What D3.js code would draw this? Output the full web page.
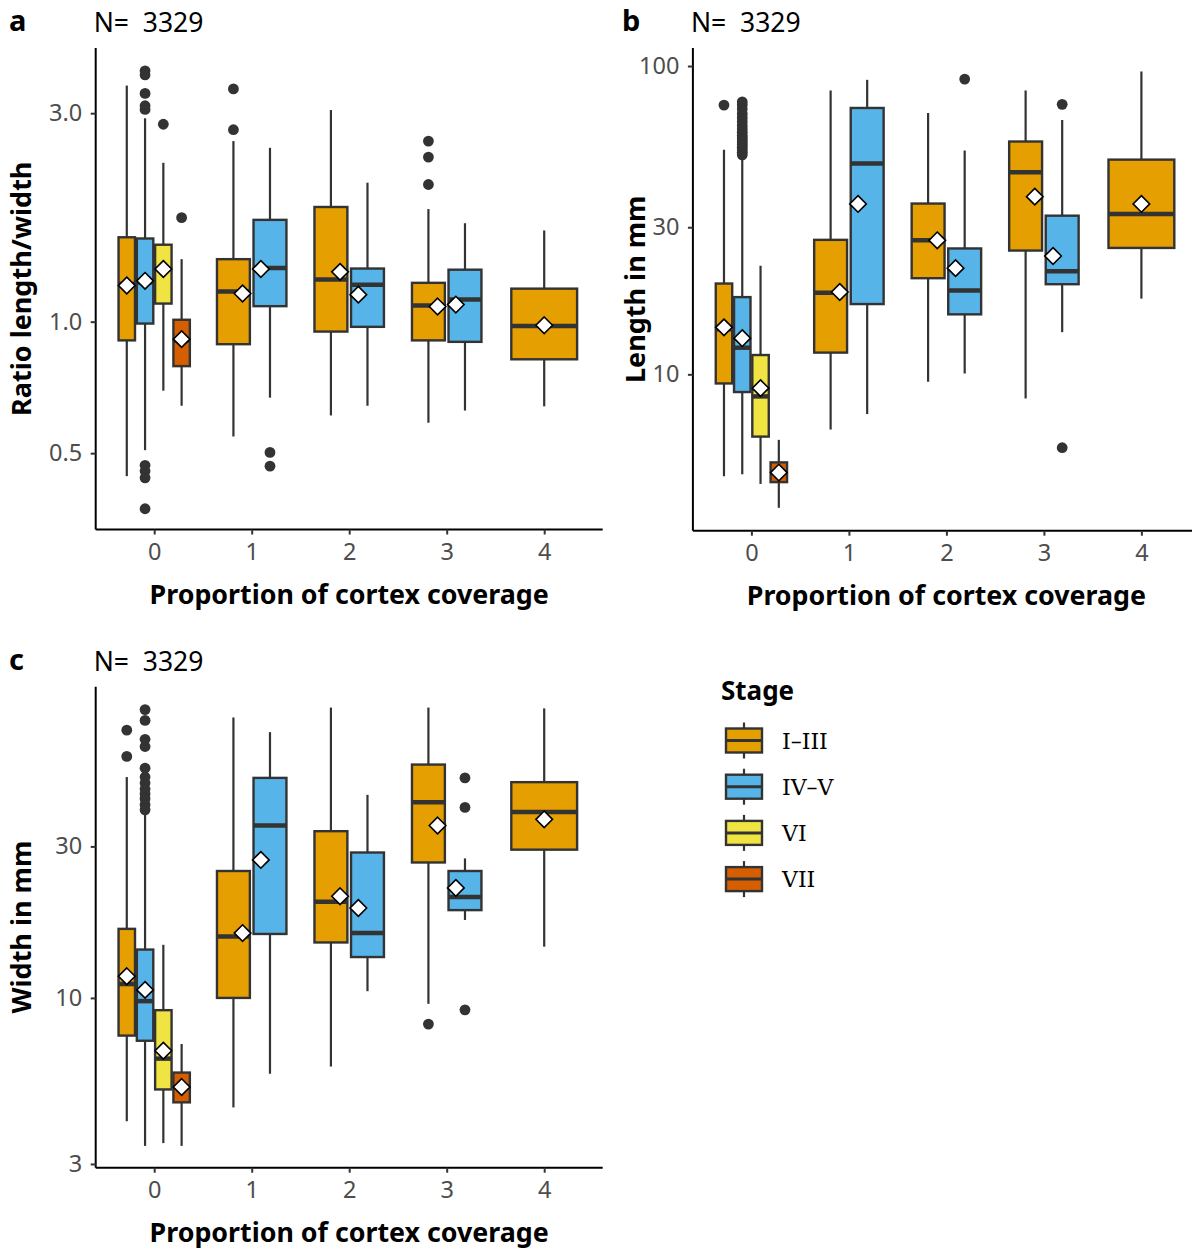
<!DOCTYPE html>
<html><head><meta charset="utf-8">
<script src="https://cdn.jsdelivr.net/npm/d3@7"></script>
<style>body{margin:0;background:#fff} svg{display:block} text{white-space:pre}</style>
</head><body>
<script>
const categories = ["0","1","2","3","4"];
const stages = ["I–III","IV–V","VI","VII"];
const stageColors = ["#E69F00","#56B4E9","#F0E442","#D55E00"];
const xAxisTitle = "Proportion of cortex coverage";
const nLabel = "N=  3329";
const legendTitle = "Stage";

// [category, stage, lower whisker, Q1, median, Q3, upper whisker, mean]
const ratioBoxes = [
  ["0","I–III",0.443,0.906,1.22,1.56,3.47,1.21],
  ["0","IV–V",0.508,0.99,1.23,1.55,2.92,1.24],
  ["0","VI",0.695,1.10,1.32,1.50,2.31,1.32],
  ["0","VII",0.642,0.791,0.906,1.01,1.39,0.912],
  ["1","I–III",0.546,0.888,1.172,1.39,2.59,1.16],
  ["1","IV–V",0.670,1.085,1.326,1.71,2.50,1.32],
  ["2","I–III",0.610,0.949,1.248,1.83,3.05,1.30],
  ["2","IV–V",0.642,0.973,1.214,1.323,2.08,1.153],
  ["3","I–III",0.587,0.906,1.089,1.227,1.81,1.083],
  ["3","IV–V",0.626,0.899,1.124,1.315,1.68,1.094],
  ["4","I–III",0.640,0.820,0.977,1.19,1.617,0.981]
];
const ratioOutliers = [
  ["0","IV–V",[3.75,3.67,3.33,3.12,3.06,0.469,0.455,0.439,0.373]],
  ["0","VI",[2.83]],
  ["0","VII",[1.73]],
  ["1","I–III",[3.41,2.75]],
  ["1","IV–V",[0.502,0.467]],
  ["3","I–III",[2.59,2.38,2.06]]
];
const ratioTicks = [0.5, 1.0, 3.0];

const lengthBoxes = [
  ["0","I–III",4.67,9.34,14.0,19.7,53.5,14.2],
  ["0","IV–V",4.74,8.76,12.2,17.8,50.9,13.1],
  ["0","VI",4.41,6.28,8.48,11.55,22.5,9.02],
  ["0","VII",3.69,4.47,4.80,5.18,6.13,4.80],
  ["1","I–III",6.62,11.76,18.4,27.3,83.3,18.5],
  ["1","IV–V",7.43,16.9,48.3,73.1,90.2,35.7],
  ["2","I–III",9.46,20.5,27.2,35.8,70.4,27.2],
  ["2","IV–V",10.06,15.65,18.7,25.6,53.2,22.1],
  ["3","I–III",8.35,25.2,45.2,56.9,83.3,37.7],
  ["3","IV–V",13.7,19.6,21.6,32.7,66.8,24.2],
  ["4","I–III",17.6,25.7,33.1,49.7,96.0,35.7]
];
const lengthOutliers = [
  ["0","I–III",[74.7]],
  ["0","IV–V",[51.5,52.5,53.5,54.5,55.5,56.5,57.5,58.5,59.5,61,62.5,64,66,68,70,72.5,74.7,76.5]],
  ["2","IV–V",[90.7]],
  ["3","IV–V",[75.1,5.78]]
];
const lengthTicks = [10, 30, 100];

const widthBoxes = [
  ["0","I–III",4.09,7.61,11.06,16.5,49.6,11.7],
  ["0","IV–V",3.42,7.33,9.77,14.2,37.8,10.6],
  ["0","VI",3.49,5.15,6.44,9.15,14.7,6.82],
  ["0","VII",3.42,4.69,5.24,5.82,7.16,5.24],
  ["1","I–III",4.52,10.0,15.6,25.1,76.4,16.0],
  ["1","IV–V",5.77,15.9,34.9,49.3,68.7,27.2],
  ["2","I–III",6.08,14.95,20.1,33.5,82.1,20.9],
  ["2","IV–V",10.5,13.45,16.0,28.7,43.6,19.2],
  ["3","I–III",9.58,26.7,41.3,54.3,82.1,34.9],
  ["3","IV–V",17.6,18.9,20.8,25.1,27.5,22.2],
  ["4","I–III",14.5,29.3,38.5,47.8,81.6,36.5]
];
const widthOutliers = [
  ["0","I–III",[69.7,57.6]],
  ["0","IV–V",[80.9,74.8,65.2,61.9,52.9,49.6,47.5,45.5,43.9,42.4,40.6,39.1]],
  ["3","I–III",[8.27]],
  ["3","IV–V",[49.3,39.8,9.17]]
];
const widthTicks = [3, 10, 30];

const W = 1192, H = 1249;
const svg = d3.select("body").append("svg").attr("width", W).attr("height", H)
  .style("font-family", "'Noto Sans', 'Open Sans', sans-serif");

const panels = [
  {tag:"a", tagx:9, boxes:ratioBoxes, outliers:ratioOutliers, ticks:ratioTicks, fmt:d3.format(".1f"),
   domain:[0.3344, 4.23], left:95.7, top:48, width:507, height:481.5, ytitle:"Ratio length/width", ytx:31},
  {tag:"b", tagx:622, boxes:lengthBoxes, outliers:lengthOutliers, ticks:lengthTicks, fmt:d3.format("d"),
   domain:[3.11, 114.4], left:692.9, top:48, width:507, height:482.7, ytitle:"Length in mm", ytx:645},
  {tag:"c", tagx:9, boxes:widthBoxes, outliers:widthOutliers, ticks:widthTicks, fmt:d3.format("d"),
   domain:[2.92, 95.5], left:95.7, top:686.7, width:507, height:481, ytitle:"Width in mm", ytx:31}
];

const color = d3.scaleOrdinal().domain(stages).range(stageColors);
const dark = "#333333";

panels.forEach(p => {
  const g = svg.append("g").attr("transform", `translate(${p.left},${p.top})`);
  const x = d3.scalePoint().domain(categories).range([0, p.width]).padding(0.6);
  const y = d3.scaleLog().domain(p.domain).range([p.height, 0]);
  const step = x.step();
  const dodgeW = 0.75 * step;

  const byCat = d3.group(p.boxes, d => d[0]);
  const pos = new Map();
  byCat.forEach((arr, cat) => {
    const n = arr.length;
    const slot = dodgeW / n;
    arr.forEach((d, i) => {
      const cx = x(cat) - dodgeW / 2 + slot * (i + 0.5);
      const mx = x(cat) + (i - (n - 1) / 2) * (dodgeW / 4);
      pos.set(cat + "|" + d[1], {cx, bw: slot * 0.9, mx});
    });
  });

  const bg = g.append("g");
  p.boxes.forEach(d => {
    const ps = pos.get(d[0] + "|" + d[1]);
    const b = bg.append("g");
    b.append("line").attr("x1", ps.cx).attr("x2", ps.cx).attr("y1", y(d[6])).attr("y2", y(d[5]))
      .attr("stroke", dark).attr("stroke-width", 2.2);
    b.append("line").attr("x1", ps.cx).attr("x2", ps.cx).attr("y1", y(d[3])).attr("y2", y(d[2]))
      .attr("stroke", dark).attr("stroke-width", 2.2);
    b.append("rect").attr("x", ps.cx - ps.bw / 2).attr("width", ps.bw)
      .attr("y", y(d[5])).attr("height", y(d[3]) - y(d[5]))
      .attr("fill", color(d[1])).attr("stroke", dark).attr("stroke-width", 2.4);
    b.append("line").attr("x1", ps.cx - ps.bw / 2).attr("x2", ps.cx + ps.bw / 2)
      .attr("y1", y(d[4])).attr("y2", y(d[4])).attr("stroke", dark).attr("stroke-width", 4.5);
  });
  p.outliers.forEach(o => {
    const ps = pos.get(o[0] + "|" + o[1]);
    o[2].forEach(v => {
      bg.append("circle").attr("cx", ps.cx).attr("cy", y(v)).attr("r", 5.4).attr("fill", dark);
    });
  });
  const r = 8.3;
  p.boxes.forEach(d => {
    const ps = pos.get(d[0] + "|" + d[1]);
    g.append("path").attr("d", `M0,${-r}L${r},0L0,${r}L${-r},0Z`)
      .attr("transform", `translate(${ps.mx},${y(d[7])})`)
      .attr("fill", "#fff").attr("stroke", "#000").attr("stroke-width", 1.6);
  });

  const xa = g.append("g").attr("transform", `translate(0,${p.height})`)
    .call(d3.axisBottom(x).tickSize(5).tickPadding(9));
  const ya = g.append("g").call(d3.axisLeft(y).tickValues(p.ticks).tickFormat(p.fmt).tickSize(5).tickPadding(8.5));
  [xa, ya].forEach(a => {
    a.select(".domain").attr("stroke", "#000").attr("stroke-width", 2);
    a.selectAll(".tick line").attr("stroke", dark).attr("stroke-width", 2);
    a.selectAll(".tick text").attr("fill", "#4D4D4D").style("font-size", "23.5px").style("font-family", "'Noto Sans', sans-serif");
  });
  xa.select(".domain").attr("d", `M0,0H${p.width}`);
  ya.select(".domain").attr("d", `M0,${p.height}V0`);

  g.append("text").attr("x", p.width / 2).attr("y", p.height + 74).attr("text-anchor", "middle")
    .style("font-size", "26.8px").style("font-weight", "bold").text(xAxisTitle);
  svg.append("text").attr("transform", `translate(${p.ytx},${p.top + p.height / 2}) rotate(-90)`)
    .attr("text-anchor", "middle").style("font-size", "27px").style("font-weight", "bold").text(p.ytitle);
  svg.append("text").attr("x", p.tagx).attr("y", p.top - 17).style("font-size", "29px")
    .style("font-weight", "bold").text(p.tag);
  svg.append("text").attr("x", p.left - 2).attr("y", p.top - 16).style("font-size", "26.5px").text(nLabel);
});

// legend
const lg = svg.append("g").attr("transform", "translate(721,0)");
lg.append("text").attr("x", 0).attr("y", 700).style("font-size", "26px").style("font-weight", "bold").text(legendTitle);
stages.forEach((s, i) => {
  const cy = 740.5 + i * 46.2;
  const k = lg.append("g").attr("transform", `translate(0,${cy})`);
  k.append("line").attr("x1", 23).attr("x2", 23).attr("y1", -18).attr("y2", 18).attr("stroke", dark).attr("stroke-width", 2.2);
  k.append("rect").attr("x", 5).attr("y", -12).attr("width", 36).attr("height", 24)
    .attr("fill", stageColors[i]).attr("stroke", dark).attr("stroke-width", 2.4);
  k.append("line").attr("x1", 5).attr("x2", 41).attr("y1", 0).attr("y2", 0).attr("stroke", dark).attr("stroke-width", 3);
  k.append("text").attr("x", 61).attr("y", 8).style("font-size", "22px")
    .style("font-family", "'DejaVu Serif', serif").text(s);
});
</script>
</body></html>
